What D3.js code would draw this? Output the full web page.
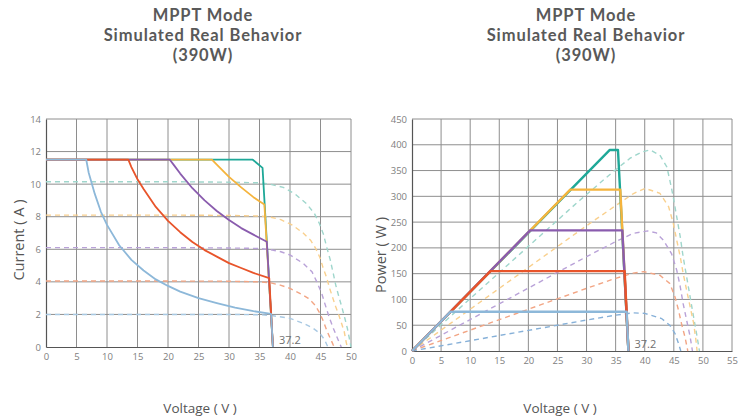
<!DOCTYPE html>
<html>
<head>
<meta charset="utf-8">
<script src="https://cdn.jsdelivr.net/npm/d3@7/dist/d3.min.js"></script>
<style>
  html,body{margin:0;padding:0;background:#fff;}
  svg{display:block;}
  text{font-family:"Open Sans","Noto Sans",sans-serif;}
  text.title{font-family:Lato,"Noto Sans",sans-serif;letter-spacing:0.9px;}
</style>
</head>
<body>
<svg id="chart" width="747" height="419"></svg>
<script>
// ---------- DATA ----------
const titleLines = ["MPPT Mode", "Simulated Real Behavior", "(390W)"];
const seriesNames = ["390W", "313W", "234W", "155W", "75W"];
const solidColors = ["#1fa898", "#f5b43d", "#8a5cae", "#e8542a", "#8db8d9"];
const dashColors  = ["#9fd6cc", "#f9d08e", "#b9a2d8", "#f2a584", "#a9c9e3"];
const dashColorsP = ["#9fd6cc", "#f9d08e", "#b9a2d8", "#f2a584", "#86b0d8"];

const ivTicksX = [0,5,10,15,20,25,30,35,40,45,50];
const ivTicksY = [0,2,4,6,8,10,12,14];
const pvTicksX = [0,5,10,15,20,25,30,35,40,45,50,55];
const pvTicksY = [0,50,100,150,200,250,300,350,400,450];

// I-V dashed (module curves)  [V, I]
const ivDash390 = [[0,10.15],[20,10.15],[30,10.12],[35,10.08],[36.7,10.0],[38.9,9.8],[40.8,9.4],[42.7,8.8],[44,8.2],[44.8,7.6],[45.5,6.9],[46,6.15],[46.6,5.35],[47.1,4.5],[47.5,3.8],[48,3.1],[48.5,2.45],[49,1.75],[49.4,1.15],[49.8,0.4],[50,0]];
const ivDash313 = [[0,8.1],[20,8.1],[30,8.08],[35,8.04],[36.7,7.98],[38.5,7.82],[40.3,7.5],[42.1,7.02],[43.4,6.54],[44.2,6.06],[44.9,5.5],[45.4,4.9],[46,4.27],[46.5,3.6],[47,3.03],[47.5,2.47],[48,1.96],[48.5,1.4],[48.9,0.92],[49.2,0.32],[49.4,0]];
const ivDash234 = [[0,6.1],[20,6.1],[30,6.08],[35,6.05],[36.7,5.98],[38.5,5.85],[40,5.65],[42.2,5.13],[43.6,4.62],[44.4,4.0],[45.2,3.29],[45.7,2.68],[46.4,1.86],[47.1,1.15],[47.9,0.43],[48.4,0]];
const ivDash155 = [[0,4.05],[20,4.05],[30,4.04],[35,4.0],[36.7,3.95],[38.4,3.8],[40,3.6],[41.6,3.29],[43,2.99],[44.1,2.58],[44.9,2.07],[45.5,1.55],[46,1.04],[46.6,0.53],[47.1,0.12],[47.3,0]];
const ivDash75  = [[0,2.0],[30,2.0],[35,1.98],[37,1.93],[40,1.76],[42.2,1.45],[43.8,1.15],[44.9,0.84],[45.7,0.43],[46.2,0]];

// I-V solid (MPPT limited)  [V, I]
const ivMppt390 = [[0,11.5],[33.9,11.5],[35.5,11.0],[37.2,0]];
const ivMppt313 = [[0,11.5],[27.2,11.5],[28,11.2],[30,10.45],[32,9.8],[34,9.2],[35.8,8.75],[37.2,0]];
const ivMppt234 = [[0,11.5],[20.3,11.5],[21,11.15],[22,10.65],[24,9.75],[26,9.0],[28,8.35],[30,7.8],[32,7.3],[34,6.9],[36.2,6.46],[37.2,0]];
const ivMppt155 = [[0,11.5],[13.5,11.5],[14,11.05],[15,10.3],[16,9.7],[18,8.6],[20,7.75],[22,7.05],[24,6.45],[26,5.95],[28,5.55],[30,5.15],[32,4.85],[34,4.55],[36.6,4.23],[37.2,0]];
const ivMppt75  = [[0,11.5],[6.6,11.5],[7,10.7],[8,9.4],[9,8.3],[10,7.5],[12,6.25],[14,5.35],[16,4.7],[18,4.15],[20,3.75],[22,3.4],[25,3.0],[28,2.7],[31,2.42],[34,2.2],[36.9,2.03],[37.2,0]];

// P-V dashed (module curves)  [V, P]
const pvDash390 = [[0,0],[10,101.5],[20,203],[28.9,293],[34.6,348],[37.5,374],[39.5,386],[40.9,390],[42.6,380],[43.8,357],[44.3,332],[44.9,299],[45.5,260],[46.1,222],[46.6,183],[47.2,144],[47.8,105],[48.4,66],[49,28],[49.4,0]];
const pvDash313 = [[0,0],[10,81],[20,162],[30,243],[35,282],[38,305],[40.05,315.5],[42.6,306],[44.1,280],[44.9,248],[45.5,215],[46.1,183],[46.6,151],[47.2,118],[47.8,86],[48.4,54],[48.8,21],[49,0]];
const pvDash234 = [[0,0],[10,61],[20,122],[30,183],[35,212],[38,228],[40.5,233],[42,229],[43.2,215],[44.6,189],[45.5,157],[46.1,125],[46.6,92],[47.2,60],[47.8,28],[48.2,0]];
const pvDash155 = [[0,0],[10,40.5],[20,81],[30,121.5],[35,141],[38,151],[39.8,154],[42.6,147],[44.3,131],[45.2,105],[45.8,79.5],[46.3,54],[46.9,28],[47.3,6],[47.4,0]];
const pvDash75  = [[0,0],[10,20],[20,40],[30,60],[35,69.5],[38,74],[40,73],[42.9,63],[44.3,50],[45.2,34],[45.8,15],[46.2,0]];

// P-V solid (MPPT limited)  [V, P]
const pvMppt390 = [[0,0],[34,390],[35.4,390],[37.2,0]];
const pvMppt313 = [[0,0],[27.2,313],[35.8,313],[37.2,0]];
const pvMppt234 = [[0,0],[20.3,234],[36.15,234],[37.2,0]];
const pvMppt155 = [[0,0],[13.5,155],[36.55,155],[37.2,0]];
const pvMppt75  = [[0,0],[6.6,76],[36.9,76],[37.2,0]];

const vocLabel = "37.2";

const ivDash = [ivDash390, ivDash313, ivDash234, ivDash155, ivDash75];
const ivMppt = [ivMppt390, ivMppt313, ivMppt234, ivMppt155, ivMppt75];
const pvDash = [pvDash390, pvDash313, pvDash234, pvDash155, pvDash75];
const pvMppt = [pvMppt390, pvMppt313, pvMppt234, pvMppt155, pvMppt75];

// ---------- DRAW ----------
const svg = d3.select("#chart");

function drawPanel(cfg){
  const g = svg.append("g");
  const x = d3.scaleLinear().domain(cfg.xDomain).range(cfg.xRange);
  const y = d3.scaleLinear().domain(cfg.yDomain).range(cfg.yRange);

  // titles
  g.selectAll("text.title").data(titleLines).enter().append("text")
    .attr("class", "title")
    .attr("x", cfg.titleX).attr("y", (d,i)=>21 + i*20)
    .attr("text-anchor","middle")
    .attr("font-size", 16.5).attr("font-weight", 700).attr("fill", "#595959")
    .text(d=>d);

  // grid
  const grid = g.append("g");
  grid.selectAll("line.v").data(cfg.xTicks.slice(1)).enter().append("line")
    .attr("x1", d=>x(d)).attr("x2", d=>x(d))
    .attr("y1", y(cfg.yDomain[1])).attr("y2", y(0))
    .attr("stroke", "#8e8e8e").attr("stroke-width", 1);
  grid.selectAll("line.h").data(cfg.yTicks.slice(1)).enter().append("line")
    .attr("x1", x(0)).attr("x2", x(cfg.xDomain[1]))
    .attr("y1", d=>y(d)).attr("y2", d=>y(d))
    .attr("stroke", "#8e8e8e").attr("stroke-width", 1);

  // axes
  const xAxis = d3.axisBottom(x).tickValues(cfg.xTicks).tickSize(0).tickPadding(6);
  const yAxis = d3.axisLeft(y).tickValues(cfg.yTicks).tickSize(0).tickPadding(5);
  const ax = g.append("g").attr("transform", `translate(0,${y(0)})`).call(xAxis);
  const ay = g.append("g").attr("transform", `translate(${x(0)},0)`).call(yAxis);
  [ax, ay].forEach(a=>{
    a.select(".domain").attr("stroke", "#555").attr("stroke-width", 1.2);
    a.selectAll("text").attr("fill", "#808080").attr("font-size", 9.5)
      .attr("font-family", '"Open Sans","Noto Sans",sans-serif');
  });

  const line = d3.line().x(d=>x(d[0])).y(d=>y(d[1]));

  // dashed module curves
  cfg.dash.forEach((s,i)=>{
    g.append("path").datum(s).attr("d", line).attr("fill","none")
      .attr("stroke", cfg.dashColors[i]).attr("stroke-width", 1.4)
      .attr("stroke-dasharray", "5,4");
  });
  // solid mppt curves
  cfg.solid.forEach((s,i)=>{
    g.append("path").datum(s).attr("d", line).attr("fill","none")
      .attr("stroke", solidColors[i]).attr("stroke-width", cfg.solidWidth)
      .attr("stroke-linejoin","round");
  });

  // Voc label
  g.append("text").attr("x", x(37.2)+6).attr("y", y(0)-3)
    .attr("font-size", 11).attr("fill", "#707070").text(vocLabel);

  // axis labels
  g.append("text").attr("x", cfg.xLabelX).attr("y", 413)
    .attr("text-anchor","middle").attr("font-size", 13.5).attr("fill","#555")
    .text("Voltage ( V )");
  g.append("text")
    .attr("transform", `translate(${cfg.yLabelX},${cfg.yLabelY}) rotate(-90)`)
    .attr("text-anchor","middle").attr("font-size", 14.5).attr("fill","#555")
    .text(cfg.yLabel);
}

drawPanel({
  xDomain:[0,50], xRange:[46,351], yDomain:[0,14], yRange:[347,119],
  xTicks: ivTicksX, yTicks: ivTicksY,
  dash: ivDash, solid: ivMppt, dashColors: dashColors, solidWidth: 1.8,
  titleX: 203, xLabelX: 200, yLabelX: 24, yLabelY: 240, yLabel: "Current ( A )"
});
drawPanel({
  xDomain:[0,55], xRange:[412,732], yDomain:[0,450], yRange:[351,119],
  xTicks: pvTicksX, yTicks: pvTicksY,
  dash: pvDash, solid: pvMppt, dashColors: dashColorsP, solidWidth: 2.4,
  titleX: 586, xLabelX: 560, yLabelX: 386, yLabelY: 255, yLabel: "Power ( W )"
});
</script>
</body>
</html>
